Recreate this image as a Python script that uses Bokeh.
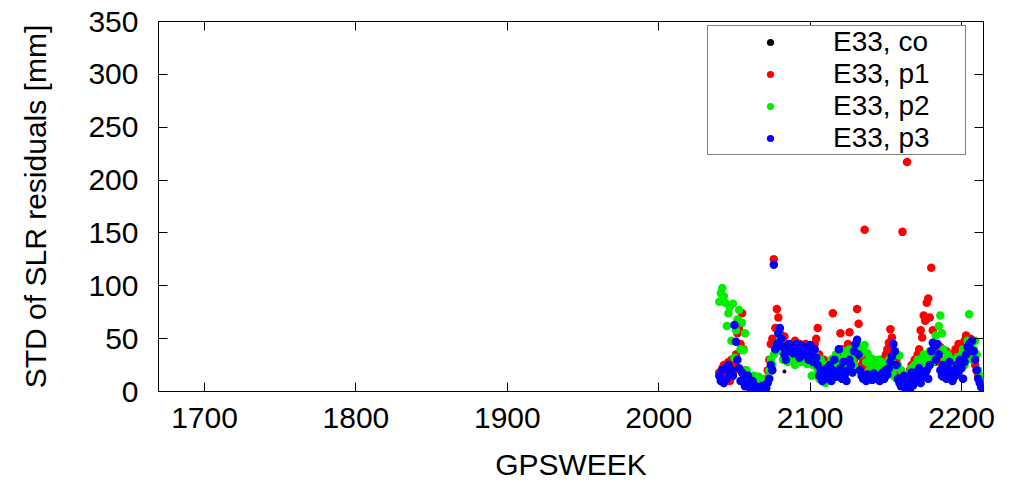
from bokeh.plotting import figure
from bokeh.models import FixedTicker, LinearAxis, Legend, LegendItem, Range1d
from bokeh.embed import file_html
from bokeh.resources import INLINE

weeks = list(range(2040, 2214))

co = [12, 8, 18, 6, 20, 10, 22, 15,
      18, 12, 32, 27, 25, 20, 8, 15,
      10, 4, 6, 12, 3, 2, 8, 5,
      1, 3, 2, 1, 4, 2, 5, 2,
      6, 10, 20, 18, 40, 35, 42, 50,
      45, 40, 38, 19, 28, 35, 40, 36,
      38, 33, 36, 44, 35, 30, 40, 37,
      32, 38, 35, 28, 40, 33, 25, 36,
      30, 22, 32, 18, 8, 15, 10, 20,
      12, 22, 8, 18, 26, 12, 16, 35,
      20, 10, 25, 14, 8, 18, 27, 22,
      16, 35, 42, 21, 32, 18, 13, 10,
      12, 8, 14, 10, 13, 9, 15, 11,
      10, 13, 8, 12, 16, 10, 18, 14,
      20, 25, 30, 40, 35, 22, 10, 6,
      4, 8, 12, 2, 6, 10, 1, 15,
      5, 10, 15, 8, 20, 6, 12, 14,
      13, 18, 10, 22, 34, 37, 38, 26,
      40, 30, 18, 12, 22, 15, 10, 20,
      25, 14, 8, 18, 12, 22, 16, 26,
      20, 10, 25, 30, 38, 40, 36, 42,
      34, 26, 18, 10, 6, 5]

p1 = [18, 12, 22, 25, 15, 20, 28, 10,
      30, 25, 20, 35, 55, 60, 45, 74,
      40, 20, 15, 8, 10, 12, 5, 8,
      3, 6, 10, 4, 2, 8, 5, 12,
      20, 30, 45, 50, 125, 60, 78, 70,
      55, 48, 40, 52, 35, 30, 45, 38,
      42, 35, 48, 40, 30, 45, 38, 32,
      40, 45, 35, 42, 30, 38, 25, 45,
      50, 60, 35, 28, 22, 30, 18, 25,
      20, 15, 30, 74, 25, 18, 22, 30,
      55, 40, 28, 35, 30, 45, 56, 38,
      42, 30, 35, 78, 64, 40, 25, 30,
      153, 28, 20, 25, 18, 30, 22, 15,
      20, 25, 18, 30, 22, 28, 35, 40,
      46, 59, 51, 38, 25, 30, 20, 15,
      10, 151, 8, 5, 217, 12, 20, 25,
      15, 30, 22, 35, 40, 58, 51, 72,
      67, 84, 88, 70, 117, 58, 45, 40,
      35, 30, 42, 25, 20, 30, 38, 28,
      22, 35, 30, 25, 40, 32, 45, 38,
      30, 42, 48, 53, 44, 35, 50, 40,
      30, 25, 20, 15, 12, 8]

p2 = [85, 93, 98, 90, 84, 62, 74, 80,
      48, 83, 32, 58, 68, 77, 40, 65,
      39, 55, 20, 15, 10, 12, 8, 15,
      5, 10, 14, 6, 8, 3, 12, 8,
      12, 20, 30, 25, 35, 40, 45, 55,
      48, 38, 30, 42, 35, 28, 40, 33,
      38, 30, 25, 36, 42, 30, 28, 35,
      40, 32, 26, 38, 30, 15, 25, 35,
      28, 20, 12, 30, 22, 18, 8, 25,
      15, 22, 30, 18, 25, 35, 28, 20,
      30, 25, 38, 32, 20, 28, 40, 35,
      30, 25, 38, 45, 40, 35, 42, 39,
      44, 28, 36, 20, 25, 31, 22, 18,
      25, 30, 20, 28, 15, 22, 18, 25,
      30, 20, 28, 15, 22, 12, 25, 34,
      20, 13, 8, 15, 5, 10, 18, 22,
      12, 25, 18, 30, 22, 15, 28, 35,
      20, 30, 25, 38, 32, 28, 37, 53,
      45, 62, 72, 55, 40, 30, 25, 35,
      28, 22, 30, 18, 25, 32, 20, 28,
      35, 40, 25, 30, 48, 73, 45, 30,
      40, 48, 35, 20, 15, 10]

p3 = [15, 10, 20, 8, 22, 12, 25, 18,
      20, 15, 63, 47, 30, 22, 10, 18,
      12, 5, 8, 15, 4, 3, 10, 6,
      2, 4, 3, 1, 5, 2, 6, 3,
      8, 12, 25, 20, 120, 40, 45, 55,
      60, 50, 42, 35, 30, 40, 45, 38,
      42, 36, 40, 45, 38, 32, 44, 40,
      35, 42, 38, 30, 44, 36, 28, 40,
      32, 25, 15, 20, 10, 18, 12, 22,
      15, 25, 10, 20, 30, 14, 18, 40,
      22, 12, 28, 16, 10, 20, 30, 25,
      18, 38, 45, 49, 35, 20, 15, 12,
      14, 10, 16, 12, 15, 11, 17, 13,
      12, 15, 10, 14, 18, 12, 20, 16,
      22, 28, 33, 45, 38, 25, 12, 8,
      5, 10, 15, 3, 8, 12, 2, 18,
      6, 12, 18, 10, 22, 8, 14, 16,
      15, 20, 12, 25, 38, 46, 42, 30,
      45, 35, 20, 15, 25, 18, 12, 22,
      28, 16, 10, 20, 15, 25, 18, 30,
      22, 12, 28, 35, 42, 45, 40, 48,
      38, 30, 20, 12, 8, 4]

series_labels = ["E33, co", "E33, p1", "E33, p2", "E33, p3"]
series_colors = ["#000000", "#ff0000", "#00ee00", "#0000ff"]
series_sizes = [4, 8.5, 8.5, 8.5]

x_ticks = [1700, 1800, 1900, 2000, 2100, 2200]
y_ticks = [0, 50, 100, 150, 200, 250, 300, 350]

FONT = "Liberation Sans"

p = figure(width=1003, height=484, output_backend="svg", toolbar_location=None,
           x_range=Range1d(1669.6, 2214.5), y_range=Range1d(0, 350),
           min_border_left=158, min_border_right=20, min_border_top=21,
           min_border_bottom=93)
p.grid.visible = False
p.outline_line_color = "black"
p.outline_line_width = 1
p.background_fill_color = "white"
p.border_fill_color = "white"

for ax, ticks in ((p.xaxis[0], x_ticks), (p.yaxis[0], y_ticks)):
    ax.ticker = FixedTicker(ticks=ticks)
    ax.major_tick_in = 9
    ax.major_tick_out = 0
    ax.minor_tick_line_color = None
    ax.axis_line_color = "black"
    ax.major_tick_line_color = "black"
    ax.major_label_text_font = FONT
    ax.major_label_text_font_size = "30px"
    ax.major_label_text_color = "black"
    ax.axis_label_text_font = FONT
    ax.axis_label_text_font_size = "30px"
    ax.axis_label_text_font_style = "normal"
    ax.axis_label_text_color = "black"

p.xaxis[0].axis_label = "GPSWEEK"
p.xaxis[0].major_label_standoff = 16
p.xaxis[0].axis_label_standoff = 17
p.yaxis[0].axis_label = "STD of SLR residuals [mm]"
p.yaxis[0].major_label_standoff = 20
p.yaxis[0].axis_label_standoff = 33

for side, ticks in (("above", x_ticks), ("right", y_ticks)):
    ax = LinearAxis(ticker=FixedTicker(ticks=ticks))
    ax.major_tick_in = 9
    ax.major_tick_out = 0
    ax.minor_tick_line_color = None
    ax.axis_line_color = None
    ax.major_tick_line_color = "black"
    ax.major_label_text_color = None
    ax.major_label_text_font_size = "1px"
    ax.major_label_standoff = 0
    p.add_layout(ax, side)

data = [co, p1, p2, p3]
rmap = {}
for i in range(4):
    rmap[i] = p.scatter(weeks, data[i], size=series_sizes[i], color=series_colors[i],
                        marker="circle", line_width=0)

items = [LegendItem(label=series_labels[i], renderers=[rmap[i]]) for i in range(4)]
legend = Legend(items=items, location=(549, 236))
legend.label_text_font = FONT
legend.label_text_font_size = "28px"
legend.label_text_color = "black"
legend.padding = 0
legend.spacing = 0
legend.margin = 0
legend.glyph_width = 124
legend.glyph_height = 18
legend.label_height = 31
legend.label_width = 132
legend.label_standoff = 1
legend.border_line_color = "black"
legend.border_line_width = 1
legend.background_fill_alpha = 1
legend.background_fill_color = "white"
p.add_layout(legend, "center")

open("out.html", "w").write(file_html(p, INLINE))
